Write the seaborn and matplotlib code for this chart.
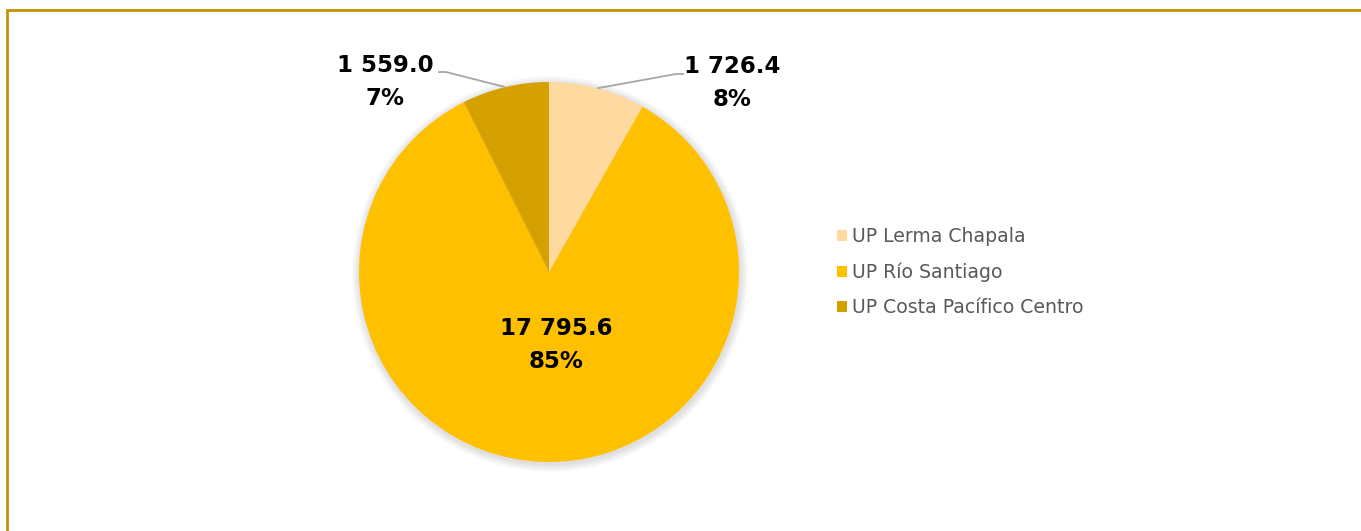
import numpy as np
import matplotlib
matplotlib.use("Agg")
import matplotlib.pyplot as plt
from matplotlib.patches import Rectangle, Circle
import seaborn as sns

# ---- data ----
categories = ["UP Lerma Chapala", "UP Río Santiago", "UP Costa Pacífico Centro"]
values = [1726.4, 17795.6, 1559.0]
value_labels = ["1 726.4", "17 795.6", "1 559.0"]
pct_labels = ["8%", "85%", "7%"]
colors = ["#FFD9A0", "#FFC000", "#D4A100"]

sns.set_theme(style="white")
plt.rcParams["font.family"] = ["DejaVu Sans"]

W, H = 1361, 531
fig = plt.figure(figsize=(W / 100, H / 100), dpi=100, facecolor="white")
ax = fig.add_axes([0, 0, 1, 1])

cx, cy, R = 549, H - 272, 190

# soft shadow
for k in range(8, 0, -1):
    ax.add_patch(Circle((cx + 1, cy - 2), R + k, color="black", alpha=0.015, lw=0, zorder=0))

wedges, _ = ax.pie(values, colors=colors, startangle=90, counterclock=False,
                   center=(cx, cy), radius=R, wedgeprops=dict(linewidth=0),
                   frame=True)
ax.set_xlim(0, W)
ax.set_ylim(0, H)
ax.set_aspect("equal")
ax.axis("off")

label_pos = {0: (732, H - 83), 1: (556, H - 345), 2: (385, H - 82)}
line_end = {0: (684, H - 74), 2: (438, H - 72)}

for i, w in enumerate(wedges):
    txt = f"{value_labels[i]}\n{pct_labels[i]}"
    x, y = label_pos[i]
    ax.text(x, y, txt, ha="center", va="center", fontsize=16.5, fontweight="bold",
            color="black", linespacing=1.6, zorder=5)
    if i in line_end:
        mid = np.deg2rad((w.theta1 + w.theta2) / 2)
        ex, ey = cx + R * np.cos(mid), cy + R * np.sin(mid)
        lx, ly = line_end[i]
        kx = lx - 8 if i == 0 else lx + 8
        ax.plot([ex, kx, lx], [ey, ly, ly], color="#A6A6A6", lw=1.3, zorder=4,
                solid_capstyle="butt")

leg = ax.legend(wedges, categories, loc="center left",
                bbox_to_anchor=(837 / W, 1 - 272 / H), frameon=False,
                fontsize=13.6, labelcolor="#595959", handlelength=0.52,
                handleheight=0.52, handletextpad=0.28, labelspacing=0.86,
                borderpad=0, borderaxespad=0)

# frame border (left & top visible)
fig.patches.append(Rectangle((7 / W, -0.1), 1.2, (H - 10) / H + 0.1,
                             transform=fig.transFigure, fill=False,
                             edgecolor="#C49200", lw=2.0, zorder=10))

fig.savefig("out.png", dpi=100, facecolor="white")
